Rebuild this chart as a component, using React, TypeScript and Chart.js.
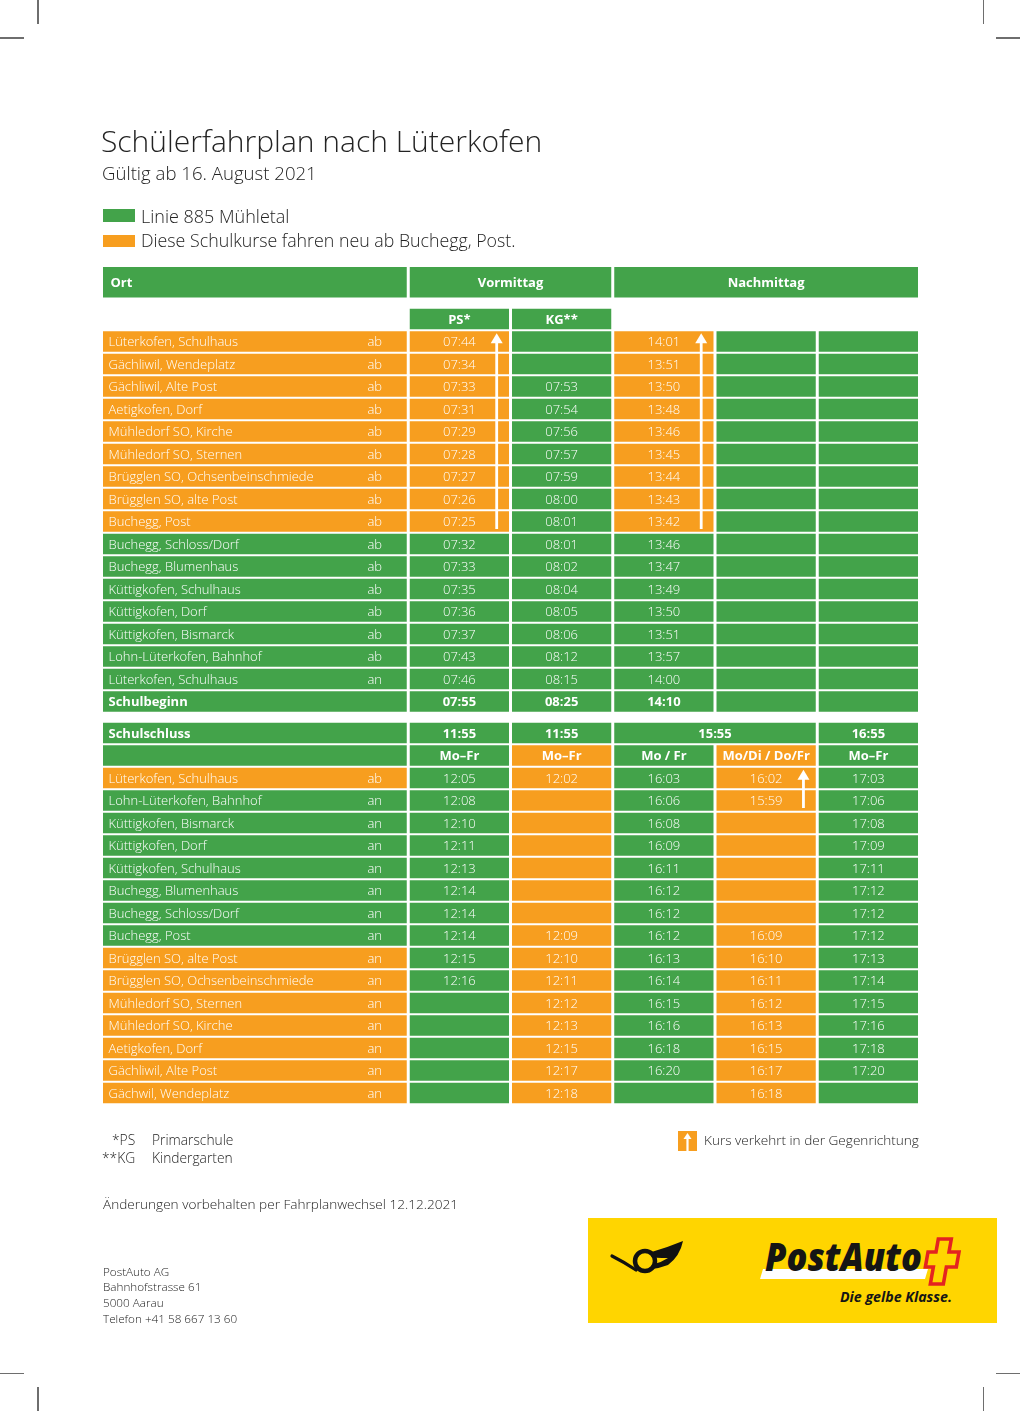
import React, { useEffect, useRef } from 'react';
import { Chart, registerables } from 'chart.js';

Chart.register(...registerables);

const GREEN = '#43a34a';
const ORANGE = '#f79e1f';
const FONT = "'Open Sans', 'DejaVu Sans', sans-serif";
const INK = '#232323';
const CELL_INK = '#ffffff';

// ---------- data ----------
const headerLabels = ['Ort', 'Vormittag', 'Nachmittag'];
const courseLabels = ['PS*', 'KG**'];

const amStations = [
  'Lüterkofen, Schulhaus',
  'Gächliwil, Wendeplatz',
  'Gächliwil, Alte Post',
  'Aetigkofen, Dorf',
  'Mühledorf SO, Kirche',
  'Mühledorf SO, Sternen',
  'Brügglen SO, Ochsenbeinschmiede',
  'Brügglen SO, alte Post',
  'Buchegg, Post',
  'Buchegg, Schloss/Dorf',
  'Buchegg, Blumenhaus',
  'Küttigkofen, Schulhaus',
  'Küttigkofen, Dorf',
  'Küttigkofen, Bismarck',
  'Lohn-Lüterkofen, Bahnhof',
  'Lüterkofen, Schulhaus',
];
const amDirections = ['ab', 'ab', 'ab', 'ab', 'ab', 'ab', 'ab', 'ab', 'ab', 'ab', 'ab', 'ab', 'ab', 'ab', 'ab', 'an'];
const amPS = ['07:44', '07:34', '07:33', '07:31', '07:29', '07:28', '07:27', '07:26', '07:25', '07:32', '07:33', '07:35', '07:36', '07:37', '07:43', '07:46'];
const amKG = ['', '', '07:53', '07:54', '07:56', '07:57', '07:59', '08:00', '08:01', '08:01', '08:02', '08:04', '08:05', '08:06', '08:12', '08:15'];
const amNachmittag = ['14:01', '13:51', '13:50', '13:48', '13:46', '13:45', '13:44', '13:43', '13:42', '13:46', '13:47', '13:49', '13:50', '13:51', '13:57', '14:00'];
const schoolStartLabel = 'Schulbeginn';
const schoolStart = ['07:55', '08:25', '14:10', '', ''];
// cell colours per column (o = orange, g = green), rows incl. Schulbeginn
const amColours = [
  'ooooooooogggggggg',
  'ooooooooogggggggg',
  'ggggggggggggggggg',
  'ooooooooogggggggg',
  'ggggggggggggggggg',
  'ggggggggggggggggg',
];

const schoolEndLabel = 'Schulschluss';
const schoolEnd = ['11:55', '11:55', '15:55', '16:55'];
const dayLabels = ['Mo–Fr', 'Mo–Fr', 'Mo / Fr', 'Mo/Di / Do/Fr', 'Mo–Fr'];
const dayColours = 'ggogog';

const pmStations = [
  'Lüterkofen, Schulhaus',
  'Lohn-Lüterkofen, Bahnhof',
  'Küttigkofen, Bismarck',
  'Küttigkofen, Dorf',
  'Küttigkofen, Schulhaus',
  'Buchegg, Blumenhaus',
  'Buchegg, Schloss/Dorf',
  'Buchegg, Post',
  'Brügglen SO, alte Post',
  'Brügglen SO, Ochsenbeinschmiede',
  'Mühledorf SO, Sternen',
  'Mühledorf SO, Kirche',
  'Aetigkofen, Dorf',
  'Gächliwil, Alte Post',
  'Gächwil, Wendeplatz',
];
const pmDirections = ['ab', 'an', 'an', 'an', 'an', 'an', 'an', 'an', 'an', 'an', 'an', 'an', 'an', 'an', 'an'];
const pm1155Main = ['12:05', '12:08', '12:10', '12:11', '12:13', '12:14', '12:14', '12:14', '12:15', '12:16', '', '', '', '', ''];
const pm1155Extra = ['12:02', '', '', '', '', '', '', '12:09', '12:10', '12:11', '12:12', '12:13', '12:15', '12:17', '12:18'];
const pm1555Main = ['16:03', '16:06', '16:08', '16:09', '16:11', '16:12', '16:12', '16:12', '16:13', '16:14', '16:15', '16:16', '16:18', '16:20', ''];
const pm1555Extra = ['16:02', '15:59', '', '', '', '', '', '16:09', '16:10', '16:11', '16:12', '16:13', '16:15', '16:17', '16:18'];
const pm1655 = ['17:03', '17:06', '17:08', '17:09', '17:11', '17:12', '17:12', '17:12', '17:13', '17:14', '17:15', '17:16', '17:18', '17:20', ''];
const pmColours = [
  'ogggggggooooooo',
  'ggggggggggggggg',
  'ooooooooooooooo',
  'ggggggggggggggg',
  'ooooooooooooooo',
  'ggggggggggggggg',
];

// courses running in the opposite direction (column, first row, last row)
const amArrows = [
  { col: 1, first: 0, last: 8 },
  { col: 3, first: 0, last: 8 },
];
const pmArrows = [{ col: 4, first: 0, last: 1 }];

// ---------- layout ----------
const COL_EDGES = [0, 3, 4, 5, 6, 7, 8];
const HEADER_POS = -2.63;
const COURSE_POS = -1;
const PM_POS = 17.4;

type Cell = { x: [number, number]; y: number; text?: string; bold?: boolean; left?: boolean; dir?: string; indent?: number };

function buildTable() {
  const cols: { cells: Cell[]; colours: string[] }[] = COL_EDGES.slice(0, 6).map(() => ({ cells: [], colours: [] }));
  const add = (c: number, cell: Cell, colour: string, span = 1) => {
    cols[c].cells.push({ ...cell, x: [COL_EDGES[c], COL_EDGES[c + span]] });
    cols[c].colours.push(colour === 'o' ? ORANGE : GREEN);
  };
  courseLabels.forEach((t, i) => add(i + 1, { x: [0, 0], y: COURSE_POS, text: t, bold: true }, 'g'));
  const amTimes = [amPS, amKG, amNachmittag, [], []];
  for (let r = 0; r <= amStations.length; r++) {
    const last = r === amStations.length;
    add(0, { x: [0, 0], y: r, text: last ? schoolStartLabel : amStations[r], dir: last ? '' : amDirections[r], bold: last, left: true }, amColours[0][r]);
    for (let c = 1; c < 6; c++) {
      const t = last ? schoolStart[c - 1] : amTimes[c - 1][r] || '';
      add(c, { x: [0, 0], y: r, text: t, bold: last }, amColours[c][r]);
    }
  }
  add(0, { x: [0, 0], y: PM_POS, text: schoolEndLabel, bold: true, left: true }, 'g');
  add(1, { x: [0, 0], y: PM_POS, text: schoolEnd[0], bold: true }, 'g');
  add(2, { x: [0, 0], y: PM_POS, text: schoolEnd[1], bold: true }, 'g');
  add(3, { x: [0, 0], y: PM_POS, text: schoolEnd[2], bold: true }, 'g', 2);
  add(5, { x: [0, 0], y: PM_POS, text: schoolEnd[3], bold: true }, 'g');
  add(0, { x: [0, 0], y: PM_POS + 1, text: '' }, dayColours[0]);
  dayLabels.forEach((t, i) => add(i + 1, { x: [0, 0], y: PM_POS + 1, text: t, bold: true }, dayColours[i + 1]));
  const pmTimes = [pm1155Main, pm1155Extra, pm1555Main, pm1555Extra, pm1655];
  pmStations.forEach((s, r) => {
    add(0, { x: [0, 0], y: PM_POS + 2 + r, text: s, dir: pmDirections[r], left: true }, pmColours[0][r]);
    for (let c = 1; c < 6; c++) add(c, { x: [0, 0], y: PM_POS + 2 + r, text: pmTimes[c - 1][r] }, pmColours[c][r]);
  });
  return cols;
}

const cellTextPlugin = {
  id: 'cellText',
  afterDatasetsDraw(chart: any) {
    const { ctx } = chart;
    const xs = chart.scales.x;
    const ys = chart.scales.y;
    ctx.save();
    ctx.fillStyle = CELL_INK;
    ctx.textBaseline = 'alphabetic';
    chart.data.datasets.forEach((ds: any) => {
      ds.data.forEach((p: Cell) => {
        const l = xs.getPixelForValue(p.x[0]);
        const r = xs.getPixelForValue(p.x[1]);
        const base = ys.getPixelForValue(p.y) + 4.6;
        ctx.font = `${p.bold ? 700 : 300} 13px ${FONT}`;
        if (p.text) {
          if (p.left) {
            ctx.textAlign = 'left';
            ctx.fillText(p.text, l + (p.indent ?? 7), base);
          } else {
            ctx.textAlign = 'center';
            ctx.fillText(p.text, (l + r) / 2, base);
          }
        }
        if (p.dir) {
          ctx.font = `300 13px ${FONT}`;
          ctx.textAlign = 'center';
          ctx.fillText(p.dir, r - 33.5, base);
        }
      });
    });
    const drawArrow = (col: number, y0: number, y1: number) => {
      const x = xs.getPixelForValue(COL_EDGES[col + 1]) - 13.8;
      const top = ys.getPixelForValue(y0) - 8.3;
      const bottom = ys.getPixelForValue(y1) + 7.5;
      ctx.fillStyle = '#ffffff';
      ctx.fillRect(x - 1.4, top + 9, 2.8, bottom - top - 9);
      ctx.beginPath();
      ctx.moveTo(x, top);
      ctx.lineTo(x + 6, top + 10);
      ctx.lineTo(x - 6, top + 10);
      ctx.closePath();
      ctx.fill();
    };
    amArrows.forEach((a) => drawArrow(a.col, a.first, a.last));
    pmArrows.forEach((a) => drawArrow(a.col, PM_POS + 2 + a.first, PM_POS + 2 + a.last));
    ctx.restore();
  },
};

function TimetableChart() {
  const ref = useRef<HTMLCanvasElement>(null);
  useEffect(() => {
    const cols = buildTable();
    const cellStyle = {
      borderColor: '#ffffff',
      borderWidth: { top: 1, bottom: 1, left: 1.5, right: 1.5 },
      borderSkipped: false,
      grouped: false,
      inflateAmount: 0,
    };
    const headerCells: Cell[] = headerLabels.map((t, i) => ({
      x: i === 0 ? [COL_EDGES[0], COL_EDGES[1]] : i === 1 ? [COL_EDGES[1], COL_EDGES[3]] : [COL_EDGES[3], COL_EDGES[6]],
      y: HEADER_POS,
      text: t,
      bold: true,
      left: i === 0,
      indent: 9,
    }));
    const datasets: any[] = [
      { label: 'Kopf', data: headerCells, backgroundColor: GREEN, barThickness: 32.5, maxBarThickness: 32.5, ...cellStyle },
      ...cols.map((c, i) => ({
        label: `Spalte ${i}`,
        data: c.cells,
        backgroundColor: c.colours,
        barThickness: 22.5,
        maxBarThickness: 22.5,
        ...cellStyle,
      })),
    ];
    const chart = new Chart(ref.current as HTMLCanvasElement, {
      type: 'bar',
      data: { datasets },
      options: {
        indexAxis: 'y',
        animation: false,
        responsive: false,
        maintainAspectRatio: false,
        events: [],
        layout: { padding: { left: 101.5, right: 100.5, top: 262.75, bottom: 304.5 } },
        scales: {
          x: { type: 'linear', min: 0, max: 8, display: false, offset: false },
          y: { type: 'linear', min: -3.5, max: 34, reverse: true, display: false, offset: false },
        },
        plugins: { legend: { display: false }, tooltip: { enabled: false }, title: { display: false } },
      } as any,
      plugins: [cellTextPlugin],
    });
    return () => chart.destroy();
  }, []);
  return <canvas ref={ref} width={1020} height={1411} style={{ position: 'absolute', left: 0, top: 0, width: 1020, height: 1411 }} />;
}

function Label({ x, base, size, weight = 300, color = INK, children }: any) {
  return (
    <div
      style={{
        position: 'absolute',
        left: x,
        top: base - size * 0.888,
        fontFamily: FONT,
        fontSize: size,
        lineHeight: `${size}px`,
        fontWeight: weight,
        color,
        whiteSpace: 'nowrap',
      }}
    >
      {children}
    </div>
  );
}

const cropMarks = [
  { l: 37.3, t: 0, w: 1.4, h: 24 },
  { l: 0, t: 37.3, w: 24, h: 1.4 },
  { l: 982.5, t: 0, w: 1.4, h: 24 },
  { l: 996, t: 37.3, w: 24, h: 1.4 },
  { l: 37.3, t: 1387, w: 1.4, h: 24 },
  { l: 0, t: 1372.5, w: 24, h: 1.4 },
  { l: 982.5, t: 1387, w: 1.4, h: 24 },
  { l: 996, t: 1372.5, w: 24, h: 1.4 },
];

function Logo() {
  return (
    <svg style={{ position: 'absolute', left: 588, top: 1218 }} width={409} height={105}>
      <rect x={0} y={0} width={409} height={105} fill="#ffd500" />
      <g>
        <path d="M24 38 Q36 44 48 52" stroke="#111" strokeWidth={3.2} strokeLinecap="round" fill="none" />
        <circle cx={57} cy={43} r={10} fill="none" stroke="#111" strokeWidth={4.5} />
        <path d="M62 34.5 Q78 30 95 23 Q92 38 80 47 Q72 50 64 51 L66 46 Q74 44 80 40 Q66 40 64 39 Z" fill="#111" />
      </g>
      <polygon points="175,51 340,51 337,61 172,61" fill="#ffffff" />
      <text x={177} y={53} fontFamily={FONT} fontWeight={800} fontStyle="italic" fontSize={38} textLength={157} lengthAdjust="spacingAndGlyphs" fill="#151515">
        PostAuto
      </text>
      <g transform="translate(7,0) skewX(-10)">
        <polygon
          points="347,21 360,21 360,34 370,34 370,49 360,49 360,66 347,66 347,49 339,49 339,34 347,34"
          fill="none"
          stroke="#e42320"
          strokeWidth={3.6}
        />
      </g>
      <text x={252} y={84} fontFamily={FONT} fontWeight={700} fontStyle="italic" fontSize={14} textLength={112} lengthAdjust="spacingAndGlyphs" fill="#151515">
        Die gelbe Klasse.
      </text>
    </svg>
  );
}

export default function App() {
  return (
    <div style={{ position: 'absolute', left: 0, top: 0, width: 1020, height: 1411, background: '#ffffff', overflow: 'hidden' }}>
      <TimetableChart />
      {cropMarks.map((m, i) => (
        <div key={i} style={{ position: 'absolute', left: m.l, top: m.t, width: m.w, height: m.h, background: '#6e6e6e' }} />
      ))}
      <Label x={101} base={153} size={30}>
        Schülerfahrplan nach Lüterkofen
      </Label>
      <Label x={102} base={181} size={18.6}>
        Gültig ab 16. August 2021
      </Label>
      <div style={{ position: 'absolute', left: 103, top: 209, width: 32, height: 13, background: GREEN }} />
      <Label x={141} base={223} size={18}>
        Linie 885 Mühletal
      </Label>
      <div style={{ position: 'absolute', left: 103, top: 235, width: 32, height: 12, background: ORANGE }} />
      <Label x={141} base={248} size={17.8}>
        Diese Schulkurse fahren neu ab Buchegg, Post.
      </Label>

      <Label x={112} base={1145} size={13.8}>
        *PS
      </Label>
      <Label x={152} base={1145} size={13.8}>
        Primarschule
      </Label>
      <Label x={102} base={1163} size={13.8}>
        **KG
      </Label>
      <Label x={152} base={1163} size={13.8}>
        Kindergarten
      </Label>

      <div style={{ position: 'absolute', left: 678, top: 1131, width: 19, height: 20, background: ORANGE }}>
        <svg width={19} height={20} style={{ position: 'absolute', left: 0, top: 0 }}>
          <rect x={8.4} y={6} width={2.2} height={14} fill="#fff" />
          <polygon points="9.5,2 13.5,8 5.5,8" fill="#fff" />
        </svg>
      </div>
      <Label x={704} base={1145} size={13.6}>
        Kurs verkehrt in der Gegenrichtung
      </Label>

      <Label x={103} base={1209} size={13.6}>
        Änderungen vorbehalten per Fahrplanwechsel 12.12.2021
      </Label>

      <Label x={103} base={1276} size={11.7}>
        PostAuto AG
      </Label>
      <Label x={103} base={1291.5} size={11.7}>
        Bahnhofstrasse 61
      </Label>
      <Label x={103} base={1307} size={11.7}>
        5000 Aarau
      </Label>
      <Label x={103} base={1323} size={11.7}>
        Telefon +41 58 667 13 60
      </Label>

      <Logo />
    </div>
  );
}
